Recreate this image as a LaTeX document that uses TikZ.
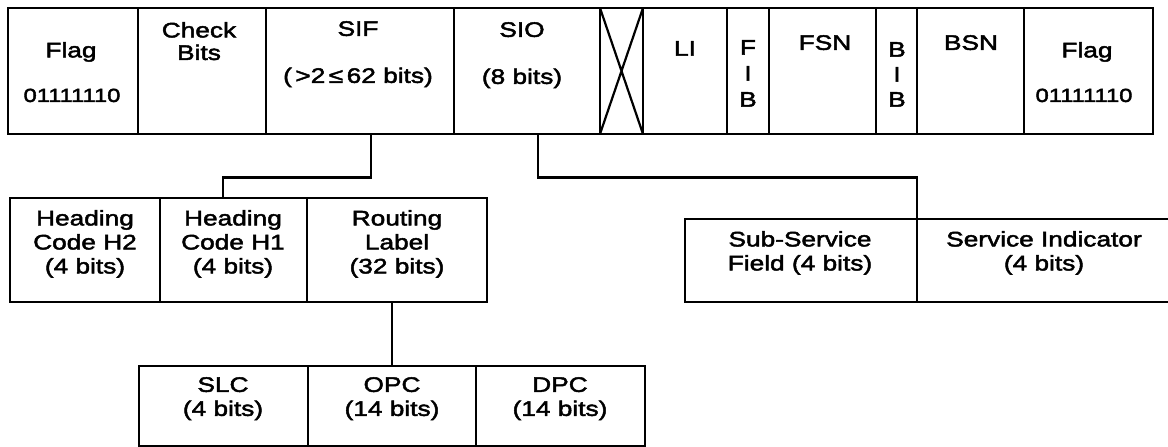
\documentclass[tikz,border=0pt]{standalone}
\usepackage{fontspec}
\newfontfamily\lbl[FakeStretch=1.25,FakeBold=2.2]{Liberation Sans}
\begin{document}
\begin{tikzpicture}[x=1pt,y=-1pt,
  field/.style={draw=black, line width=2.9pt, rectangle, inner sep=0pt, outer sep=0pt, anchor=north west},
  conn/.style={draw=black, line width=2.4pt},
  txt/.style={font=\lbl\fontsize{21}{24}\selectfont, align=center, inner sep=0pt, anchor=north},
  small/.style={font=\lbl\fontsize{19}{20}\selectfont, inner sep=0pt, anchor=north}]
\useasboundingbox (0,0) rectangle (1168,447);
\clip (0,0) rectangle (1168,447);
\fill[white] (0,0) rectangle (1168,447);

% top row
\node[field, minimum width=130pt, minimum height=126pt] (flagL) at (8,8) {};
\node[field, minimum width=128pt, minimum height=126pt] (check) at (138,8) {};
\node[field, minimum width=188pt, minimum height=126pt] (sif) at (266,8) {};
\node[field, minimum width=146pt, minimum height=126pt] (sio) at (454,8) {};
\node[field, minimum width=43pt, minimum height=126pt] (spare) at (600,8) {};
\node[field, minimum width=84pt, minimum height=126pt] (li) at (643,8) {};
\node[field, minimum width=42pt, minimum height=126pt] (fib) at (727,8) {};
\node[field, minimum width=107pt, minimum height=126pt] (fsn) at (769,8) {};
\node[field, minimum width=41pt, minimum height=126pt] (bib) at (876,8) {};
\node[field, minimum width=107pt, minimum height=126pt] (bsn) at (917,8) {};
\node[field, minimum width=129pt, minimum height=126pt] (flagR) at (1024,8) {};
\draw[line width=2.2pt] (spare.north west) -- (spare.south east)
                      (spare.north east) -- (spare.south west);

\node[txt] (flagLt) at (71,42) {Flag};
\node[small] (flagLb) at (72,88.5) {01111110};
\node[txt, font=\lbl\fontsize{21}{22.5}\selectfont] (checkt) at (199,22) {Check\\Bits};
\node[txt] (sift) at (358,21) {SIF\\[23pt](\,>2\,≤\,62 bits)};
\node[txt] (siot) at (522,22) {SIO\\[23pt](8 bits)};
\node[txt] (lit) at (685,41) {LI};
\node[txt, font=\lbl\fontsize{21}{26}\selectfont] (fibt) at (748,40) {F\\I\\B};
\node[txt] (fsnt) at (825,35) {FSN};
\node[txt, font=\lbl\fontsize{21}{25}\selectfont] (bibt) at (897,42) {B\\I\\B};
\node[txt] (bsnt) at (971,35) {BSN};
\node[txt] (flagRt) at (1087,42) {Flag};
\node[small] (flagRb) at (1084,88.5) {01111110};

% middle left
\node[field, minimum width=150pt, minimum height=104pt] (h2) at (10,198) {};
\node[field, minimum width=147pt, minimum height=104pt] (h1) at (160,198) {};
\node[field, minimum width=180pt, minimum height=104pt] (rl) at (307,198) {};
\node[txt] (h2t) at (85,210) {Heading\\Code H2\\(4 bits)};
\node[txt] (h1t) at (233,210) {Heading\\Code H1\\(4 bits)};
\node[txt] (rlt) at (397,210) {Routing\\Label\\(32 bits)};

% middle right
\node[field, minimum width=232pt, minimum height=83pt] (ssf) at (685,219) {};
\node[field, minimum width=254pt, minimum height=83pt] (si) at (917,219) {};
\node[txt] (ssft) at (800,231) {Sub-Service\\Field (4 bits)};
\node[txt] (sit) at (1044,231) {Service Indicator\\(4 bits)};

% bottom
\node[field, minimum width=169pt, minimum height=80pt] (slc) at (139,366) {};
\node[field, minimum width=168pt, minimum height=80pt] (opc) at (308,366) {};
\node[field, minimum width=169pt, minimum height=80pt] (dpc) at (476,366) {};
\node[txt] (slct) at (223,377) {SLC\\(4 bits)};
\node[txt] (opct) at (392,377) {OPC\\(14 bits)};
\node[txt] (dpct) at (560,377) {DPC\\(14 bits)};

% connectors
\draw[conn] ([xshift=11pt]sif.south) -- ++(0,43.5) -| ([xshift=-10.5pt]h1.north);
\draw[conn] ([xshift=11pt]sio.south) -- ++(0,43.5) -| (ssf.north east);
\draw[conn] (opc.north |- rl.south) -- (opc.north);
\end{tikzpicture}
\end{document}
